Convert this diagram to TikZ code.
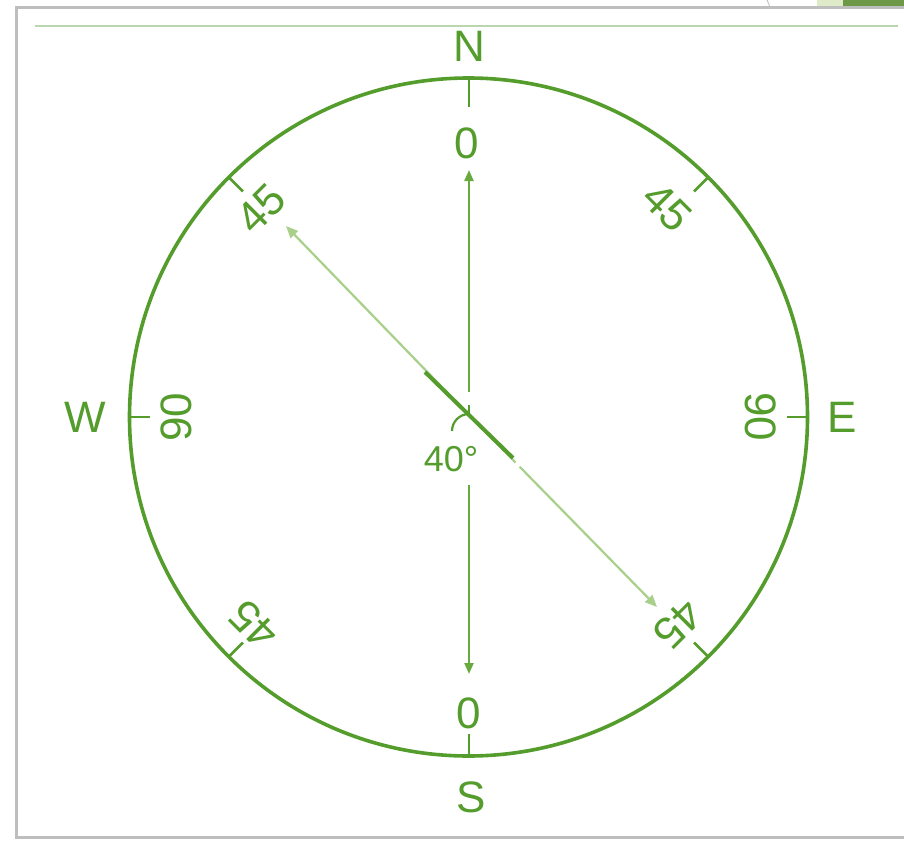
\documentclass[tikz,border=0pt]{standalone}
\usepackage{fontspec}
\setmainfont{Liberation Sans}
\usetikzlibrary{arrows.meta}
\definecolor{cgreen}{RGB}{84,156,44}
\definecolor{lgreen}{RGB}{168,208,138}
\definecolor{mgreen}{RGB}{104,170,64}
\definecolor{framegray}{RGB}{190,190,190}
\definecolor{topline}{RGB}{186,214,176}
\definecolor{dkbar}{RGB}{108,152,72}
\definecolor{ltbar}{RGB}{222,234,200}
\tikzset{
  lbl/.style={text=cgreen, font=\fontsize{44}{44}\selectfont, inner sep=0pt},
  smalllbl/.style={text=cgreen, font=\fontsize{36}{36}\selectfont, inner sep=0pt},
  rim/.style={draw=cgreen, line width=3.6pt},
  tick/.style={draw=cgreen, line width=2.6pt},
  axis/.style={draw=mgreen, line width=2.2pt, -{Triangle[length=11pt,width=9pt]}},
  needle/.style={draw=lgreen, line width=2.2pt, -{Triangle[length=12pt,width=10pt]}},
  needlebar/.style={draw=cgreen, line width=4pt}
}
\begin{document}
\begin{tikzpicture}[x=1pt,y=-1pt]
\useasboundingbox (0,0) rectangle (904,840);
\fill[white] (0,0) rectangle (904,840);
% frame
\fill[ltbar] (817,0) rectangle (843,6);
\fill[dkbar] (843,0) rectangle (904,6);
\draw[framegray, line width=0.8pt] (767,0) .. controls (769,3) .. (770,7);
\draw[framegray, line width=3pt] (904,8) -- (16,8) -- (16,837) -- (904,837);
\draw[topline, line width=1.5pt] (35,26) -- (898,26);
% circle
\coordinate (C) at (468.5,417);
\draw[rim] (C) circle[radius=339];
% cardinal ticks
\coordinate (Nt1) at (469,78);   \coordinate (Nt2) at (469,107);
\coordinate (St1) at (469,756);  \coordinate (St2) at (469,734);
\coordinate (Wt1) at (129.5,417); \coordinate (Wt2) at (150,417);
\coordinate (Et1) at (807.5,417); \coordinate (Et2) at (787,417);
\draw[tick] (Nt1) -- (Nt2);
\draw[tick] (St1) -- (St2);
\draw[tick] (Wt1) -- (Wt2);
\draw[tick] (Et1) -- (Et2);
% 45 ticks
\coordinate (NWt1) at (228.8,177.3); \coordinate (NWt2) at (242.9,191.4);
\coordinate (NEt1) at (708.2,177.3); \coordinate (NEt2) at (694.1,191.4);
\coordinate (SWt1) at (228.8,656.7); \coordinate (SWt2) at (242.9,642.6);
\coordinate (SEt1) at (708.2,656.7); \coordinate (SEt2) at (694.1,642.6);
\draw[tick] (NWt1) -- (NWt2);
\draw[tick] (NEt1) -- (NEt2);
\draw[tick] (SWt1) -- (SWt2);
\draw[tick] (SEt1) -- (SEt2);
% labels
\node[lbl] (N) at (469,46) {N};
\node[lbl] (S) at (471,797) {S};
\node[lbl] (W) at (85,417) {W};
\node[lbl] (E) at (842,417) {E};
\node[lbl] (N0) at (467,143) {0};
\node[lbl] (S0) at (469,713) {0};
\node[lbl, rotate=90] (W90) at (176,417) {90};
\node[lbl, rotate=-90] (E90) at (761,417) {90};
\node[lbl, rotate=45] (NW45) at (261,209) {45};
\node[lbl, rotate=-45] (NE45) at (667,207) {45};
\node[lbl, rotate=135] (SW45) at (254,625) {45};
\node[lbl, rotate=-135] (SE45) at (678,624) {45};
\node[smalllbl] (ang) at (451,459) {40°};
% axis arrows
\coordinate (Ntop) at (469,392);
\coordinate (Ntip) at (469,170);
\coordinate (Sbot) at (469,485);
\coordinate (Stip) at (469,674);
\draw[axis] (Ntop) -- (Ntip);
\draw[axis] (Sbot) -- (Stip);
% needle
\coordinate (nA) at (469,415);
\coordinate (nNW) at (286,226);
\coordinate (nSE) at (657,607);
\draw[needle] (nA) -- (nNW);
\draw[needle] (nA) -- (nSE);
\coordinate (b1) at (425,372);
\coordinate (b2) at (513,458);
\draw[white, line width=5pt] (516,462) -- (520,466);
\draw[needlebar] (b1) -- (b2);
\draw[tick, line width=2.2pt] (469,405) -- (nA);
\draw[tick, line width=2.2pt] (469,414) arc[start angle=270, end angle=180, radius=17];
\end{tikzpicture}
\end{document}
